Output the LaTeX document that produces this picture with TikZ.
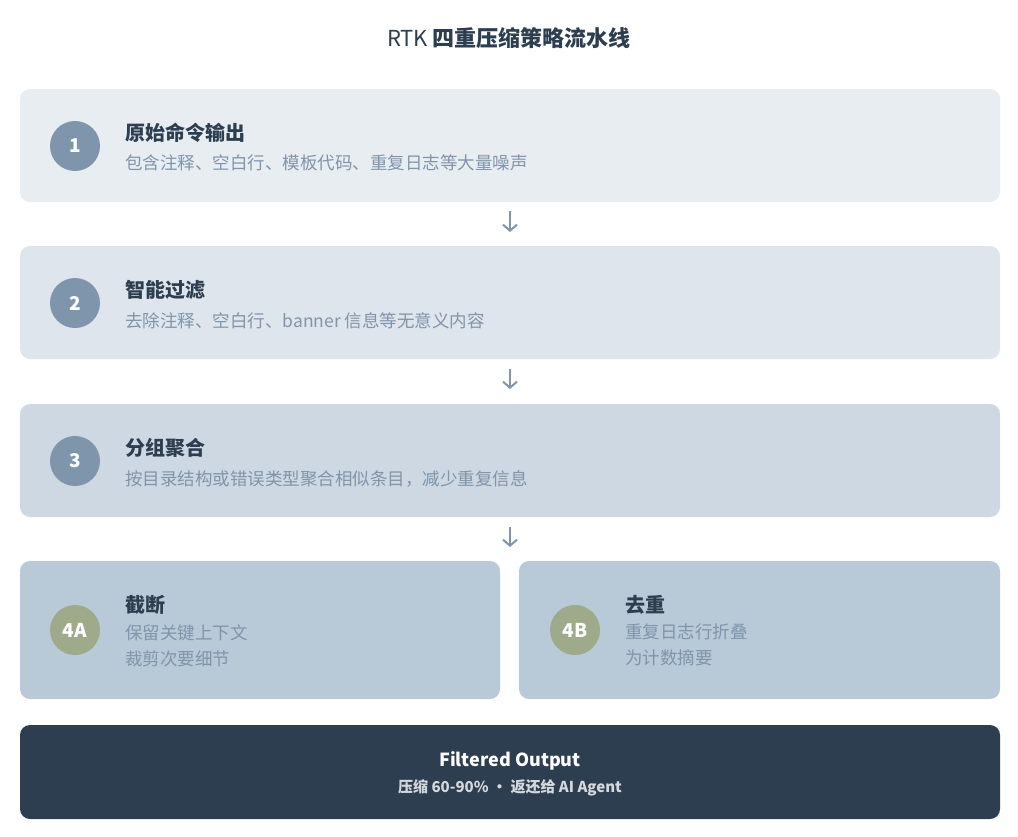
\documentclass[tikz,border=0pt]{standalone}
\usepackage{fontspec}
\setmainfont{Noto Sans CJK SC}
\usetikzlibrary{arrows.meta}
\definecolor{dark}{HTML}{2D3E50}
\definecolor{sub}{HTML}{7F95AB}
\definecolor{bA}{HTML}{E8EDF2}
\definecolor{bB}{HTML}{DEE5ED}
\definecolor{bC}{HTML}{CDD8E3}
\definecolor{bD}{HTML}{B8C9D8}
\definecolor{olive}{HTML}{9EAA8A}
\tikzset{
 card/.style={rounded corners=10pt, draw=none},
 num/.style={circle, minimum size=50pt, inner sep=0pt, text=white, font=\fontsize{19}{20}\selectfont\bfseries},
 head/.style={anchor=west, text=dark, font=\fontsize{20}{22}\selectfont\bfseries, inner sep=0pt},
 subt/.style={anchor=west, text=sub, font=\fontsize{17.5}{26}\selectfont, inner sep=0pt, align=left},
 arr/.style={-{Straight Barb[length=6pt,width=14pt,line width=2pt]}, line width=2pt, draw=sub}
}
\begin{document}
\begin{tikzpicture}[x=1pt,y=-1pt]
\useasboundingbox (0,0) rectangle (1018,836);
\fill[white] (0,0) rectangle (1018,836);
\node[text=dark, font=\fontsize{22}{24}\selectfont] (title) at (509,38) {RTK \textbf{四重压缩策略流水线}};
% box 1
\fill[card, bA] (20,89) rectangle (1000,202);
\node[num, fill=sub] (n1) at (75,146) {1};
\node[head] (h1) at (125,133) {原始命令输出};
\node[subt] (s1) at (125,163) {包含注释、空白行、模板代码、重复日志等大量噪声};
% box 2
\fill[card, bB] (20,246) rectangle (1000,359);
\node[num, fill=sub] (n2) at (75,303) {2};
\node[head] (h2) at (125,290) {智能过滤};
\node[subt] (s2) at (125,321) {去除注释、空白行、banner 信息等无意义内容};
% box 3
\fill[card, bC] (20,404) rectangle (1000,517);
\node[num, fill=sub] (n3) at (75,461) {3};
\node[head] (h3) at (125,448) {分组聚合};
\node[subt] (s3) at (125,479) {按目录结构或错误类型聚合相似条目，减少重复信息};
% box 4A 4B
\fill[card, bD] (20,561) rectangle (500,699);
\node[num, fill=olive] (n4a) at (75,630) {4A};
\node[head] (h4a) at (125,605) {截断};
\node[subt, anchor=north west] (s4a) at (125,624) {保留关键上下文\\裁剪次要细节};
\fill[card, bD] (519,561) rectangle (1000,699);
\node[num, fill=olive] (n4b) at (575,630) {4B};
\node[head] (h4b) at (625,605) {去重};
\node[subt, anchor=north west] (s4b) at (625,624) {重复日志行折叠\\为计数摘要};
% final
\fill[card, dark] (20,725) rectangle (1000,819);
\node[text=white, font=\fontsize{18}{20}\selectfont\bfseries] (f1) at (510,761) {Filtered Output};
\node[text=white!80!dark, font=\fontsize{15}{18}\selectfont\bfseries] (f2) at (510,788) {压缩 60-90\% · 返还给 AI Agent};
% arrows
\coordinate (a1) at (510,211); \coordinate (b1) at (510,232);
\coordinate (a2) at (510,369); \coordinate (b2) at (510,389);
\coordinate (a3) at (510,527); \coordinate (b3) at (510,547);
\draw[arr] (a1) -- (b1);
\draw[arr] (a2) -- (b2);
\draw[arr] (a3) -- (b3);
\end{tikzpicture}
\end{document}
